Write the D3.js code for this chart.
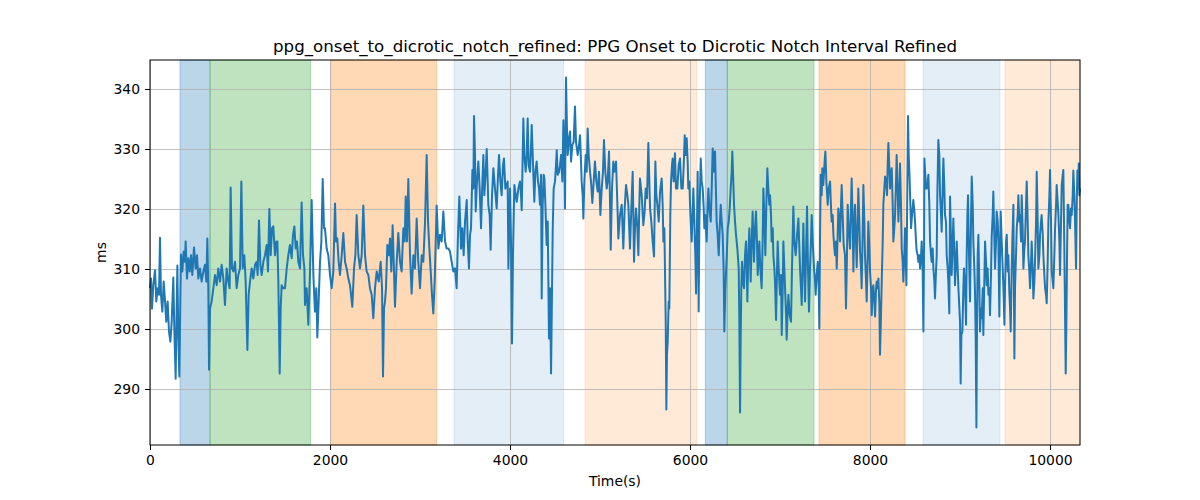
<!doctype html>
<html>
<head>
<meta charset="utf-8">
<title>PPG Onset to Dicrotic Notch Interval Refined</title>
<style>
  body { margin: 0; background: #fff; }
  svg { font-family: "DejaVu Sans", sans-serif; }
  .tick text { font-size: 13.9px; fill: #000; }
  .tick line { stroke: #000; }
  .grid line { stroke: #b0b0b0; stroke-width: 0.8px; }
  .grid path { display: none; }
  .series { fill: none; stroke: #1f77b4; stroke-width: 2px; stroke-linejoin: round; }
</style>
</head>
<body>
<script src="https://cdn.jsdelivr.net/npm/d3@7"></script>
<script>
  // shaded phases, in seconds
  const spanStart = [333, 667, 2008, 3378, 4833, 6170, 6414, 7433, 8589, 9500]
  const spanEnd   = [667, 1785, 3185, 4596, 6074, 6414, 7378, 8389, 9444, 10333]
  const spanKind  = ['base', 'task', 'stress', 'recovery', 'rest', 'base', 'task', 'stress', 'recovery', 'rest']

  const xTicks = [0, 2000, 4000, 6000, 8000, 10000]
  const yTicks = [290, 300, 310, 320, 330, 340]

  // [time (s), interval (ms)]
  const samples = [
    [0,306.8],[11,308.4],[22,303.4],[37,307.3],[56,309.8],[70,304.6],[85,306.8],[100,305.7],[111,315.2],[122,305.7],
    [137,302.9],[152,307.9],[167,304.6],[181,301.2],[196,304.6],[211,299.6],[226,297.9],[241,301.2],[259,308.6],[270,300.1],
    [285,291.7],[296,303.4],[304,310.6],[315,298.4],[326,292.1],[337,304.6],[344,312.4],[359,309.6],[374,312.9],[389,311.2],
    [396,314.6],[411,308.4],[426,311.8],[441,309.6],[456,312.3],[470,309.0],[489,313.6],[507,310.1],[522,312.3],[537,308.4],
    [555,310.1],[574,307.9],[593,309.6],[611,310.7],[626,307.9],[637,315.1],[648,306.8],[656,293.2],[667,303.4],[685,304.6],
    [704,306.8],[722,309.0],[741,307.3],[759,310.1],[778,307.9],[796,310.7],[815,308.4],[833,304.0],[852,310.1],[870,307.9],
    [885,306.8],[896,323.6],[911,310.1],[926,309.6],[944,311.2],[963,306.8],[981,309.0],[1000,310.1],[1015,324.6],[1030,310.1],
    [1048,312.3],[1063,307.9],[1082,296.5],[1096,305.7],[1111,307.9],[1130,310.1],[1148,308.4],[1167,310.7],[1185,311.2],[1196,309.0],
    [1211,318.1],[1226,310.7],[1241,309.0],[1259,311.2],[1278,312.3],[1296,314.0],[1311,309.6],[1326,320.0],[1341,312.3],[1356,316.8],
    [1370,317.1],[1389,312.3],[1404,314.6],[1415,314.6],[1426,307.9],[1441,292.6],[1452,303.4],[1463,307.3],[1481,306.8],[1500,306.8],
    [1519,310.1],[1537,312.3],[1555,314.0],[1574,311.8],[1589,315.7],[1604,317.1],[1619,313.4],[1633,314.6],[1648,311.2],[1667,310.1],
    [1685,321.1],[1700,312.3],[1715,310.1],[1722,304.0],[1741,306.8],[1759,300.7],[1778,309.6],[1796,321.5],[1815,309.0],[1833,302.9],
    [1848,306.8],[1859,298.6],[1874,304.6],[1889,311.2],[1904,314.6],[1919,325.0],[1933,316.8],[1944,316.8],[1963,313.4],[1981,312.3],
    [2000,309.0],[2019,306.8],[2037,309.6],[2056,320.9],[2067,314.6],[2081,315.1],[2096,311.2],[2111,309.0],[2130,312.3],[2148,316.0],
    [2167,311.2],[2185,310.1],[2204,308.4],[2222,307.3],[2248,303.7],[2267,310.1],[2282,312.3],[2296,319.0],[2315,312.3],[2333,310.1],
    [2352,312.3],[2370,320.6],[2389,312.3],[2407,309.6],[2426,309.0],[2444,306.8],[2463,305.7],[2481,301.8],[2500,306.8],[2519,309.6],
    [2541,307.9],[2563,311.2],[2578,306.8],[2589,292.1],[2600,303.4],[2611,304.6],[2622,306.8],[2637,314.0],[2652,312.3],[2667,315.1],
    [2681,309.6],[2696,317.3],[2711,309.6],[2722,303.7],[2741,311.2],[2759,316.0],[2778,311.2],[2796,309.6],[2815,316.8],[2830,314.6],
    [2841,322.1],[2856,314.6],[2870,325.0],[2889,312.3],[2907,305.9],[2926,312.3],[2944,310.1],[2963,318.4],[2981,311.2],[3000,306.8],
    [3019,312.3],[3037,311.2],[3056,317.9],[3074,329.0],[3089,317.9],[3104,313.4],[3119,309.6],[3133,305.7],[3148,302.6],[3163,307.9],
    [3185,320.6],[3204,313.4],[3222,315.7],[3241,314.6],[3259,319.6],[3278,314.6],[3296,313.4],[3315,313.4],[3333,312.9],[3352,311.2],
    [3370,309.6],[3389,310.1],[3407,306.8],[3422,315.7],[3437,322.1],[3456,313.4],[3470,316.8],[3485,312.3],[3500,317.9],[3519,321.5],
    [3530,314.6],[3544,310.1],[3556,315.7],[3567,316.8],[3582,326.5],[3593,323.4],[3600,335.5],[3611,329.0],[3619,319.6],[3633,324.6],
    [3648,327.9],[3663,323.4],[3678,316.8],[3693,324.6],[3704,329.0],[3715,322.3],[3730,326.2],[3741,330.0],[3752,324.6],[3759,320.7],
    [3774,319.0],[3785,313.2],[3800,322.3],[3815,326.8],[3833,323.4],[3852,320.1],[3867,325.7],[3878,329.0],[3893,324.6],[3907,322.3],
    [3922,327.3],[3933,328.4],[3948,323.4],[3963,324.0],[3974,324.6],[3982,310.1],[3993,317.9],[4000,323.4],[4011,314.6],[4022,297.6],
    [4033,312.3],[4048,324.0],[4063,322.3],[4074,321.2],[4093,323.4],[4111,324.6],[4122,322.3],[4130,319.8],[4141,329.0],[4148,335.1],
    [4159,329.0],[4174,326.2],[4185,329.0],[4196,335.1],[4207,327.3],[4222,326.2],[4233,330.1],[4241,334.0],[4256,327.3],[4270,321.2],
    [4282,326.2],[4296,327.9],[4311,324.6],[4322,323.4],[4333,320.7],[4345,325.7],[4352,305.1],[4363,320.7],[4374,325.7],[4382,325.1],
    [4393,320.7],[4407,314.0],[4419,317.9],[4433,298.4],[4445,306.8],[4456,292.6],[4467,306.8],[4474,316.2],[4485,323.4],[4500,324.6],
    [4511,327.3],[4519,329.8],[4530,325.7],[4545,326.2],[4556,327.3],[4567,329.0],[4582,324.6],[4593,334.8],[4604,329.0],[4611,320.1],
    [4622,341.9],[4633,333.4],[4641,329.0],[4656,331.8],[4667,332.9],[4678,327.9],[4693,330.7],[4707,331.2],[4722,337.1],[4733,331.2],
    [4752,329.0],[4763,330.1],[4778,332.3],[4789,327.9],[4796,324.6],[4807,322.3],[4815,318.4],[4826,324.6],[4841,329.0],[4852,326.2],
    [4863,333.4],[4874,329.0],[4889,326.2],[4900,324.6],[4915,321.0],[4930,324.6],[4944,327.9],[4959,324.6],[4974,322.9],[4989,326.2],
    [5004,319.0],[5019,323.4],[5033,326.2],[5044,331.5],[5059,326.2],[5074,323.4],[5085,324.6],[5100,329.6],[5111,321.2],[5119,313.2],
    [5133,323.4],[5148,327.9],[5159,326.2],[5178,327.9],[5193,320.7],[5204,315.1],[5222,319.0],[5241,320.7],[5259,313.4],[5274,320.1],
    [5289,324.0],[5304,322.3],[5315,320.7],[5333,313.4],[5348,320.1],[5363,326.2],[5378,311.2],[5389,316.8],[5400,320.1],[5415,316.8],
    [5426,312.3],[5437,320.7],[5444,325.1],[5463,322.3],[5481,317.3],[5496,319.6],[5507,323.4],[5522,321.8],[5537,331.0],[5548,324.6],
    [5556,320.1],[5570,317.9],[5585,314.6],[5600,312.1],[5615,327.9],[5626,322.3],[5637,320.7],[5652,317.9],[5667,322.9],[5685,325.1],
    [5696,320.7],[5704,314.6],[5715,316.8],[5722,309.6],[5730,301.2],[5737,286.6],[5744,295.7],[5752,297.9],[5763,304.6],[5770,303.4],
    [5781,319.0],[5789,324.6],[5800,327.3],[5807,328.4],[5818,324.6],[5833,329.3],[5844,323.4],[5859,323.4],[5874,327.3],[5889,328.4],
    [5904,323.4],[5919,323.4],[5930,327.3],[5941,332.3],[5952,329.0],[5963,331.8],[5974,327.9],[5981,323.4],[5993,324.6],[6000,320.7],
    [6011,316.8],[6019,314.6],[6030,320.1],[6037,323.4],[6048,317.9],[6059,312.3],[6067,305.9],[6078,317.9],[6085,326.2],[6096,302.9],
    [6104,317.9],[6119,328.4],[6130,324.6],[6141,323.4],[6152,320.1],[6159,316.8],[6170,319.0],[6185,314.6],[6196,320.7],[6204,323.4],
    [6215,320.1],[6230,317.9],[6241,323.4],[6252,330.1],[6267,326.2],[6278,329.6],[6289,322.3],[6296,317.9],[6307,315.7],[6319,312.3],
    [6330,316.8],[6341,320.7],[6352,317.9],[6363,315.7],[6374,309.6],[6381,299.6],[6393,306.8],[6407,311.8],[6419,316.8],[6430,317.9],
    [6441,320.1],[6452,323.4],[6463,326.2],[6470,329.6],[6481,324.6],[6489,320.7],[6500,317.9],[6511,315.7],[6526,313.4],[6541,310.1],
    [6548,301.2],[6556,286.1],[6563,298.4],[6570,306.8],[6578,311.2],[6589,307.9],[6600,306.8],[6611,312.3],[6622,314.6],[6630,310.1],
    [6637,304.6],[6648,312.3],[6659,316.8],[6667,312.3],[6674,307.9],[6685,314.6],[6696,319.6],[6704,314.6],[6711,311.2],[6722,316.8],
    [6733,319.6],[6744,314.6],[6752,309.0],[6763,312.3],[6770,314.6],[6781,310.1],[6796,306.8],[6807,314.6],[6815,323.4],[6826,319.0],
    [6837,312.3],[6848,320.7],[6859,326.8],[6870,323.4],[6881,320.7],[6889,322.3],[6900,319.0],[6907,314.6],[6919,316.8],[6926,312.3],
    [6937,310.1],[6944,307.9],[6956,301.5],[6967,310.1],[6974,314.6],[6985,310.1],[7000,305.7],[7011,309.0],[7019,299.0],[7030,306.8],
    [7037,314.6],[7048,310.1],[7056,306.8],[7067,302.3],[7074,298.2],[7085,303.4],[7093,305.7],[7107,302.3],[7122,301.2],[7133,310.1],
    [7148,320.4],[7159,314.6],[7174,312.3],[7189,315.7],[7204,318.4],[7215,313.4],[7222,310.1],[7233,306.8],[7241,304.0],[7252,311.2],
    [7259,317.6],[7270,310.1],[7278,304.6],[7289,312.3],[7300,320.4],[7311,310.1],[7322,302.9],[7333,310.1],[7344,314.6],[7352,319.0],
    [7363,314.6],[7378,310.1],[7389,307.9],[7396,305.7],[7407,309.0],[7419,311.2],[7430,306.8],[7437,300.1],[7444,314.6],[7452,325.7],
    [7463,322.3],[7470,326.8],[7481,324.0],[7493,327.3],[7504,329.6],[7515,324.6],[7530,320.7],[7541,323.4],[7556,324.6],[7567,320.1],
    [7574,317.9],[7585,319.0],[7593,315.7],[7604,313.4],[7611,312.3],[7622,314.6],[7630,310.1],[7641,315.7],[7648,320.1],[7659,317.9],
    [7667,314.6],[7678,320.7],[7685,324.0],[7696,319.0],[7707,314.0],[7722,312.3],[7733,303.4],[7744,312.3],[7752,320.7],[7763,316.8],
    [7778,313.4],[7789,320.7],[7796,325.1],[7807,317.9],[7815,309.6],[7826,317.9],[7833,320.7],[7844,314.6],[7852,310.3],[7863,317.9],
    [7870,323.4],[7881,317.9],[7889,312.9],[7900,310.1],[7907,306.8],[7919,316.8],[7926,324.0],[7937,317.9],[7944,312.3],[7956,307.9],
    [7963,304.6],[7974,312.3],[7981,317.9],[7993,313.4],[8000,309.6],[8011,306.8],[8019,302.3],[8030,306.8],[8037,307.3],[8048,304.6],
    [8056,302.1],[8067,306.8],[8074,307.9],[8085,306.8],[8093,308.4],[8104,304.0],[8111,295.7],[8122,302.3],[8130,307.9],[8141,314.6],
    [8148,320.7],[8159,323.4],[8167,325.4],[8178,324.6],[8189,322.3],[8196,327.3],[8204,331.0],[8215,326.8],[8222,323.4],[8233,325.7],
    [8241,326.8],[8252,320.7],[8259,314.6],[8270,316.8],[8278,319.0],[8289,324.6],[8296,329.0],[8307,323.4],[8315,317.9],[8326,322.3],
    [8333,327.6],[8344,320.7],[8352,313.4],[8363,311.2],[8370,307.9],[8381,312.3],[8389,316.8],[8396,312.3],[8404,307.3],[8411,317.9],
    [8422,335.5],[8430,329.0],[8441,324.6],[8448,320.7],[8456,316.8],[8467,319.0],[8481,321.5],[8493,319.6],[8500,317.9],[8511,314.6],
    [8519,312.9],[8530,312.3],[8537,311.2],[8548,312.3],[8556,310.1],[8567,312.3],[8574,314.6],[8585,309.6],[8593,299.6],[8600,312.3],
    [8604,328.4],[8622,323.4],[8630,323.4],[8641,324.6],[8648,325.7],[8659,320.7],[8667,314.6],[8678,312.3],[8685,311.2],[8696,313.4],
    [8704,310.1],[8715,307.9],[8722,305.1],[8733,309.6],[8741,312.3],[8748,322.3],[8759,331.5],[8770,329.0],[8778,322.3],[8789,319.0],
    [8796,316.2],[8807,323.4],[8815,328.4],[8826,323.4],[8833,319.0],[8844,317.9],[8852,312.3],[8863,310.1],[8870,307.9],[8881,302.6],
    [8889,322.1],[8900,314.6],[8907,309.0],[8919,314.6],[8926,318.4],[8937,312.3],[8944,307.3],[8956,311.2],[8963,314.6],[8974,310.1],
    [8982,306.8],[8989,304.6],[9000,301.2],[9007,290.9],[9015,299.0],[9026,299.6],[9037,306.8],[9044,310.1],[9056,306.8],[9067,300.7],
    [9074,312.3],[9082,319.0],[9089,322.3],[9100,312.3],[9111,304.6],[9122,317.9],[9130,325.4],[9141,320.7],[9148,314.6],[9159,310.1],
    [9167,305.7],[9174,298.4],[9182,283.6],[9189,301.2],[9196,312.3],[9204,315.7],[9215,306.8],[9222,299.6],[9233,303.4],[9241,301.8],
    [9252,306.8],[9259,299.0],[9270,307.9],[9278,314.6],[9289,311.2],[9296,307.3],[9307,310.1],[9315,305.7],[9326,306.8],[9333,302.3],
    [9344,309.0],[9352,315.4],[9363,319.0],[9370,322.9],[9382,314.6],[9389,310.1],[9400,314.6],[9407,319.6],[9419,317.9],[9426,314.6],
    [9437,302.1],[9444,312.3],[9452,319.6],[9463,314.6],[9474,310.1],[9482,306.8],[9493,300.7],[9500,306.8],[9511,314.6],[9519,315.7],
    [9530,309.6],[9537,312.3],[9548,306.0],[9556,303.4],[9563,299.6],[9574,309.6],[9582,315.1],[9593,320.7],[9604,295.1],[9611,306.8],
    [9622,312.3],[9630,316.8],[9641,319.0],[9648,322.3],[9659,317.9],[9667,319.0],[9678,314.6],[9685,322.3],[9696,316.8],[9704,310.1],
    [9715,313.4],[9722,314.6],[9733,320.7],[9741,324.6],[9752,317.9],[9759,312.3],[9770,309.6],[9778,306.8],[9789,311.2],[9796,314.6],
    [9807,310.1],[9815,305.1],[9826,307.9],[9833,311.2],[9845,317.9],[9852,326.2],[9863,317.9],[9870,310.1],[9882,312.3],[9889,315.7],
    [9900,317.9],[9907,319.0],[9919,315.7],[9926,312.3],[9937,309.0],[9945,306.8],[9956,305.7],[9963,304.3],[9974,311.2],[9982,317.9],
    [9993,322.3],[10000,326.5],[10011,317.9],[10019,309.6],[10030,307.9],[10037,306.8],[10048,312.3],[10056,316.8],[10067,320.7],[10074,324.0],
    [10085,321.2],[10093,319.0],[10104,314.6],[10111,309.0],[10122,317.9],[10130,324.0],[10141,325.7],[10148,326.5],[10159,313.4],[10167,302.3],
    [10174,292.6],[10182,301.2],[10189,312.3],[10196,320.7],[10204,320.7],[10215,317.9],[10222,316.8],[10233,320.1],[10241,319.0],[10252,322.3],
    [10259,326.4],[10270,322.3],[10278,317.9],[10289,310.1],[10296,320.1],[10304,326.4],[10315,323.4],[10319,327.6],[10326,322.3],[10333,323.4]
  ]

  const width = 1200
  const height = 500
  const margin = {top: 60, right: 120, bottom: 55, left: 150}
  const w = width - margin.left - margin.right
  const h = height - margin.top - margin.bottom

  const spanFill = {
    base:     ['#1f77b4', 0.3],
    task:     ['#2ca02c', 0.3],
    stress:   ['#ff7f0e', 0.3],
    recovery: ['#1f77b4', 0.12],
    rest:     ['#ff7f0e', 0.16]
  }

  const x = d3.scaleLinear().domain([0, 10333]).range([0, w])
  const y = d3.scaleLinear().domain([280.67, 344.83]).range([h, 0])

  const svg = d3.select('body').append('svg')
    .attr('width', width)
    .attr('height', height)

  const g = svg.append('g')
    .attr('transform', `translate(${margin.left}, ${margin.top})`)

  g.selectAll('rect.span')
    .data(spanStart.map((s, i) => ({s, e: spanEnd[i], k: spanKind[i]})))
    .join('rect')
    .attr('class', 'span')
    .attr('x', d => x(d.s))
    .attr('y', 0)
    .attr('width', d => x(d.e) - x(d.s))
    .attr('height', h)
    .attr('fill', d => spanFill[d.k][0])
    .attr('fill-opacity', d => spanFill[d.k][1])
    .attr('stroke', d => spanFill[d.k][0])
    .attr('stroke-opacity', d => spanFill[d.k][1])
    .attr('stroke-width', 1)

  // grid
  g.append('g')
    .attr('class', 'grid')
    .attr('transform', `translate(0, ${h})`)
    .call(d3.axisBottom(x).tickValues(xTicks).tickSize(-h).tickFormat(''))
  g.append('g')
    .attr('class', 'grid')
    .call(d3.axisLeft(y).tickValues(yTicks).tickSize(-w).tickFormat(''))

  const line = d3.line()
    .x(d => x(d[0]))
    .y(d => y(d[1]))

  g.append('path')
    .datum(samples)
    .attr('class', 'series')
    .attr('d', line)

  // frame
  g.append('rect')
    .attr('width', w)
    .attr('height', h)
    .attr('fill', 'none')
    .attr('stroke', '#000')
    .attr('stroke-width', 1)

  const xAxis = g.append('g')
    .attr('transform', `translate(0, ${h})`)
    .call(d3.axisBottom(x).tickValues(xTicks).tickSize(5).tickPadding(5).tickFormat(d3.format('d')))
  const yAxis = g.append('g')
    .call(d3.axisLeft(y).tickValues(yTicks).tickSize(5).tickPadding(5).tickFormat(d3.format('d')))
  xAxis.select('.domain').remove()
  yAxis.select('.domain').remove()
  svg.selectAll('.tick text').attr('font-family', '"DejaVu Sans", sans-serif')

  svg.append('text')
    .attr('x', margin.left + w / 2)
    .attr('y', 52)
    .attr('text-anchor', 'middle')
    .style('font-size', '16.67px')
    .text('ppg_onset_to_dicrotic_notch_refined: PPG Onset to Dicrotic Notch Interval Refined')

  svg.append('text')
    .attr('x', margin.left + w / 2)
    .attr('y', 486)
    .attr('text-anchor', 'middle')
    .style('font-size', '13.9px')
    .text('Time(s)')

  svg.append('text')
    .attr('transform', `translate(106, ${margin.top + h / 2}) rotate(-90)`)
    .attr('text-anchor', 'middle')
    .style('font-size', '13.9px')
    .text('ms')
</script>
</body>
</html>
